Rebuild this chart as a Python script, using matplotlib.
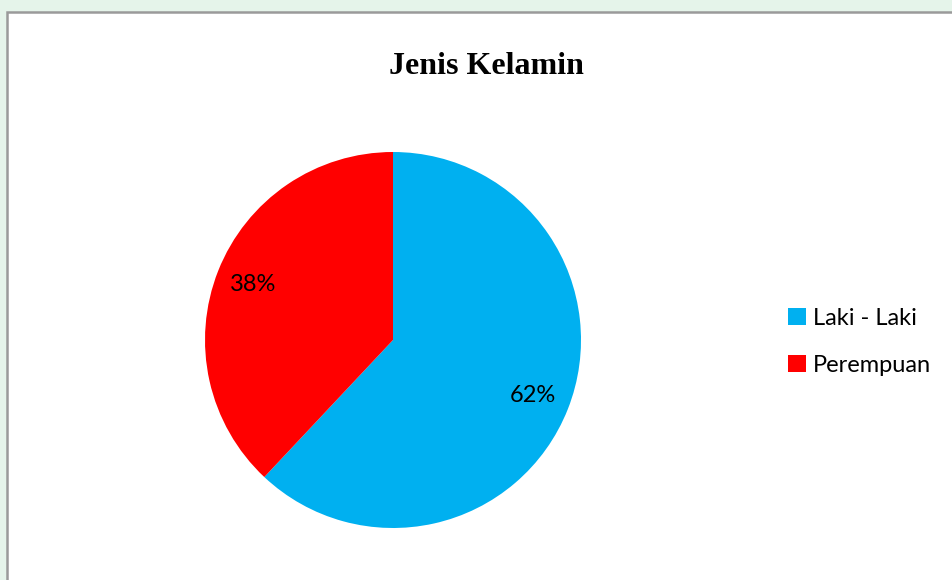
import matplotlib.pyplot as plt
from matplotlib.patches import Rectangle

labels = ['Laki - Laki', 'Perempuan']
values = [62, 38]
colors = ['#00B0F0', '#FF0000']
title = 'Jenis Kelamin'

W, H = 953, 580
fig = plt.figure(figsize=(W / 100, H / 100), dpi=100)
fig.patch.set_facecolor('#e5f4ea')

# white chart area with grey border (runs off right/bottom edges)
fig.patches.append(Rectangle((7 / W, -0.05), 1.1, (H - 12) / H + 0.05,
                             transform=fig.transFigure, facecolor='white',
                             edgecolor='#9a9a9a', linewidth=1.8, zorder=-5))

# pie axes: center (393, 340) px, radius 188 px
cx, cy, r = 393, H - 340, 188
ax = fig.add_axes([(cx - r) / W, (cy - r) / H, 2 * r / W, 2 * r / H])
ax.set_zorder(2)
wedges, texts, autotexts = ax.pie(values, colors=colors, startangle=90,
                                  counterclock=False, autopct='%d%%',
                                  pctdistance=0.8, radius=1,
                                  textprops={'fontsize': 17, 'family': 'Lato'})
ax.set_xlim(-1, 1)
ax.set_ylim(-1, 1)
ax.set_aspect('auto')
ax.axis('off')

fig.text(486 / W, 1 - 67 / H, title, ha='center', va='center',
         fontsize=23, fontweight='bold', family='Liberation Serif')

fig.legend(wedges, labels, loc='center left', bbox_to_anchor=(767 / W, 1 - 342 / H),
           frameon=False, handlelength=0.75, handleheight=0.75, handletextpad=0.3,
           labelspacing=1.1, prop={'family': 'Lato', 'size': 17})

fig.savefig('out.png', dpi=100)
